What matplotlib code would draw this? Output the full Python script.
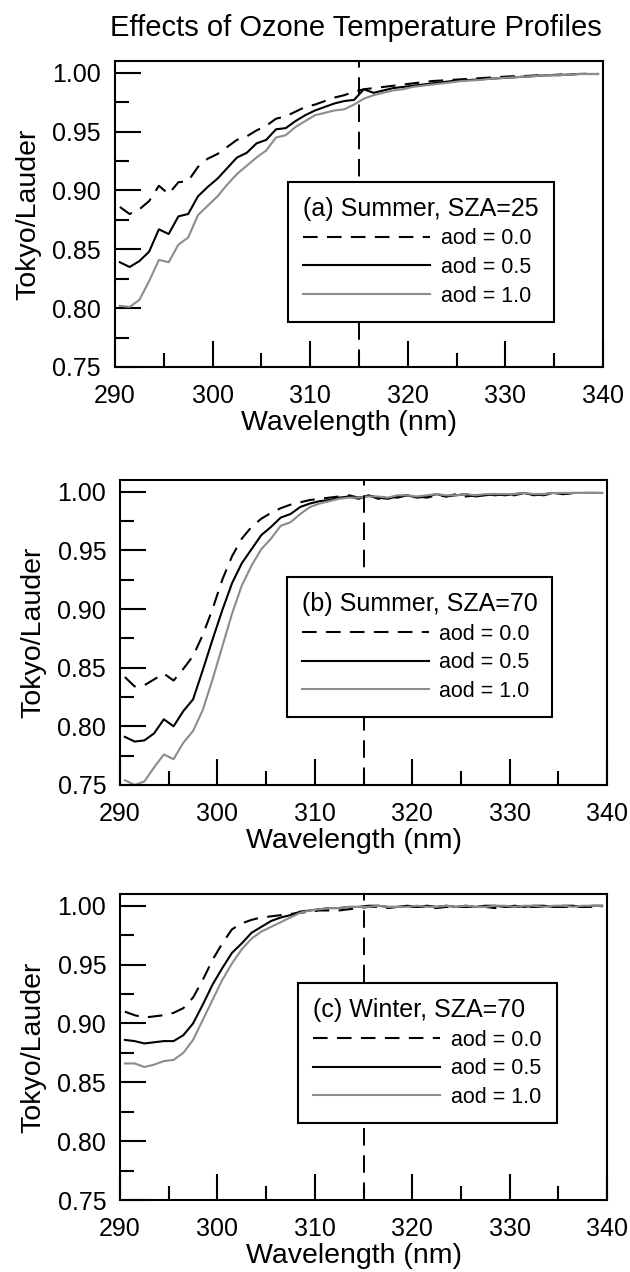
"""Tokyo/Lauder irradiance ratio, three panels, effect of ozone temperature profiles."""
import numpy as np
import matplotlib
matplotlib.use("Agg")
import matplotlib.pyplot as plt
from matplotlib.ticker import MultipleLocator

plt.rcParams["font.family"] = ["Liberation Sans", "DejaVu Sans"]

# sampling grid (nm), 1 nm steps centred on half-integers
WAVELENGTH = np.arange(290.5, 340.0, 1.0)

A_AOD00 = [.886, .880, .884, .891, .904, .897, .907, .908, .920, .927,
           .931, .937, .943, .946, .951, .955, .961, .963, .967, .971,
           .973, .976, .979, .981, .984, .986, .987, .988, .989, .990,
           .991, .992, .993, .9935, .994, .9945, .995, .9955, .996, .9965,
           .997, .9972, .9975, .998, .998, .9985, .9988, .999, .9992, .999]
A_AOD05 = [.839, .835, .840, .848, .867, .863, .878, .880, .895, .903,
           .910, .919, .928, .932, .940, .943, .952, .953, .959, .964,
           .968, .971, .974, .976, .977, .986, .983, .985, .987, .988,
           .989, .990, .991, .992, .993, .9935, .994, .9945, .995, .9955,
           .996, .9965, .997, .9975, .998, .998, .9985, .999, .999, .999]
A_AOD10 = [.802, .801, .807, .823, .841, .839, .854, .860, .879, .887,
           .895, .905, .914, .921, .928, .934, .945, .947, .954, .959,
           .964, .966, .968, .969, .973, .978, .981, .983, .985, .986,
           .988, .989, .990, .991, .992, .993, .9935, .994, .995, .9955,
           .996, .9965, .997, .9975, .998, .998, .9985, .999, .999, .999]

B_AOD00 = [.842, .834, .835, .840, .845, .839, .849, .860, .878, .900,
           .925, .945, .960, .970, .977, .982, .986, .989, .991, .993,
           .994, .995, .996, .997, .995, .997, .994, .996, .995, .997,
           .996, .995, .997, .996, .998, .996, .997, .998, .997, .998,
           .997, .999, .998, .997, .999, .998, .999, .999, .999, .999]
B_AOD05 = [.791, .787, .788, .794, .806, .800, .813, .823, .848, .874,
           .899, .922, .939, .951, .963, .970, .978, .981, .987, .990,
           .992, .993, .995, .996, .994, .997, .995, .994, .996, .997,
           .995, .996, .998, .996, .997, .998, .996, .997, .998, .997,
           .998, .999, .997, .998, .999, .998, .999, .999, .999, .999]
B_AOD10 = [.754, .750, .753, .765, .776, .772, .786, .796, .814, .840,
           .868, .896, .920, .937, .951, .960, .971, .974, .981, .987,
           .990, .992, .994, .995, .995, .996, .996, .995, .997, .997,
           .996, .997, .998, .997, .997, .998, .997, .998, .998, .998,
           .998, .999, .998, .998, .999, .999, .999, .999, .999, .999]

C_AOD00 = [.910, .907, .905, .906, .907, .909, .913, .922, .937, .954,
           .968, .980, .985, .988, .990, .991, .992, .993, .994, .995,
           .996, .996, .996, .997, .998, .999, .999, .998, .999, .999,
           .999, .999, .998, .999, .999, .999, .999, .999, .998, .999,
           .999, .999, .999, .999, .999, .999, .999, .999, .999, .999]
C_AOD05 = [.886, .885, .883, .884, .885, .885, .890, .900, .916, .933,
           .947, .960, .968, .977, .982, .987, .990, .992, .995, .996,
           .997, .998, .998, .999, .999, 1.000, 1.000, .999, .999, 1.000,
           .999, 1.000, .999, 1.000, .999, 1.000, .999, 1.000, 1.000, .999,
           1.000, .999, 1.000, 1.000, .999, 1.000, 1.000, .999, 1.000, 1.000]
C_AOD10 = [.866, .866, .863, .865, .868, .869, .875, .886, .903, .920,
           .937, .951, .963, .972, .978, .982, .986, .990, .994, .996,
           .997, .998, .998, .999, .999, .999, 1.000, .999, .999, .999,
           1.000, .999, .999, 1.000, .999, 1.000, .999, .999, 1.000, 1.000,
           .999, 1.000, 1.000, .999, 1.000, 1.000, .999, 1.000, 1.000, 1.000]

PANEL_TITLES = ["(a) Summer, SZA=25", "(b) Summer, SZA=70", "(c) Winter, SZA=70"]
PANEL_DATA = [(A_AOD00, A_AOD05, A_AOD10),
              (B_AOD00, B_AOD05, B_AOD10),
              (C_AOD00, C_AOD05, C_AOD10)]
AOD_LABELS = ["aod = 0.0", "aod = 0.5", "aod = 1.0"]
CUTOFF_NM = 315

# axes rectangles (figure fractions) and legend anchors (axes fractions)
AX_RECTS = [(0.1825, 0.7115, 0.7745, 0.2405),
            (0.1905, 0.3829, 0.7730, 0.2397),
            (0.1905, 0.0566, 0.7730, 0.2406)]
LEG_ANCHORS = [(0.355, 0.605), (0.342, 0.682), (0.366, 0.709)]

GREY = "#8c8c8c"
DASH = (0, (7, 4.5))

fig = plt.figure(figsize=(6.3, 12.72), dpi=100)
fig.text(0.565, 0.978, "Effects of Ozone Temperature Profiles",
         ha="center", va="center", fontsize=21)

for rect, (y0, y5, y10), title, anchor in zip(AX_RECTS, PANEL_DATA,
                                             PANEL_TITLES, LEG_ANCHORS):
    ax = fig.add_axes(rect)
    h0, = ax.plot(WAVELENGTH, y0, color="black", lw=1.5, linestyle=DASH)
    h5, = ax.plot(WAVELENGTH, y5, color="black", lw=1.5)
    h10, = ax.plot(WAVELENGTH, y10, color=GREY, lw=1.5)
    ax.axvline(CUTOFF_NM, color="black", lw=1.4, linestyle=(0, (9, 5)))

    ax.set_xlim(290, 340)
    ax.set_ylim(0.75, 1.01)
    ax.xaxis.set_major_locator(MultipleLocator(10))
    ax.xaxis.set_minor_locator(MultipleLocator(5))
    ax.yaxis.set_major_locator(MultipleLocator(0.05))
    ax.yaxis.set_minor_locator(MultipleLocator(0.025))
    ax.yaxis.set_major_formatter(matplotlib.ticker.FormatStrFormatter("%.2f"))
    ax.tick_params(which="both", direction="in", width=1.5, labelsize=18,
                   top=False, right=False)
    ax.tick_params(which="major", length=19)
    ax.tick_params(which="minor", length=10)
    ax.tick_params(axis="x", pad=12)
    ax.tick_params(axis="y", pad=10)
    for sp in ax.spines.values():
        sp.set_linewidth(1.5)

    ax.set_xlabel("Wavelength (nm)", fontsize=20.5, labelpad=2)
    ax.xaxis.label.set_x(0.48)
    ax.set_ylabel("Tokyo/Lauder", fontsize=20.5, labelpad=8)

    leg = ax.legend([h0, h5, h10], AOD_LABELS, title=title,
                    loc="upper left", bbox_to_anchor=anchor, borderaxespad=0,
                    fontsize=15.5, title_fontsize=18, handlelength=5.9,
                    handletextpad=0.5, labelspacing=0.35, borderpad=0.7,
                    fancybox=False, framealpha=1, edgecolor="black",
                    alignment="left")
    leg.get_frame().set_linewidth(1.5)

fig.savefig("out.png", dpi=100)
